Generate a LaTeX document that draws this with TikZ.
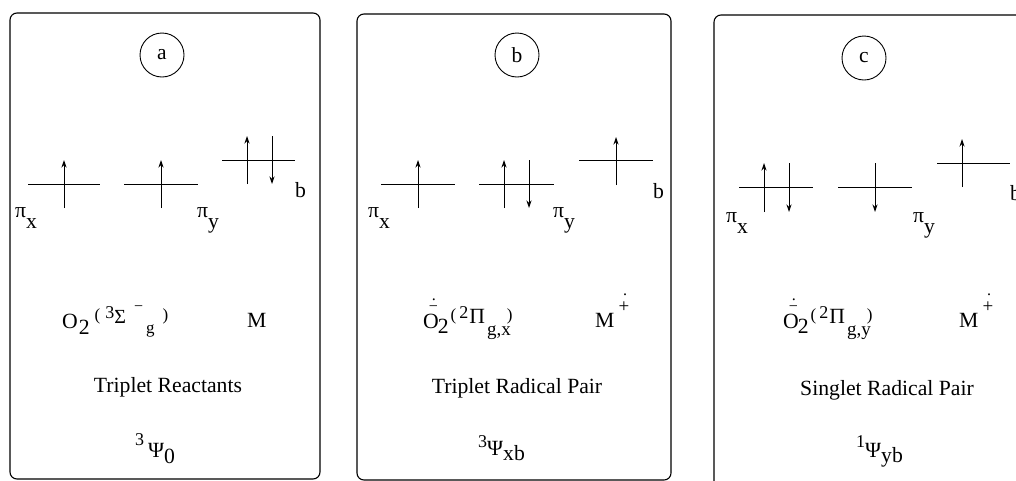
\documentclass[tikz,border=0pt]{standalone}
\usepackage{fontspec}
\setmainfont{Liberation Serif}
\usetikzlibrary{arrows.meta}
\newcommand\rb[3]{\raisebox{#1}{\fontsize{#2}{#2}\selectfont #3}}
\begin{document}
\begin{tikzpicture}[x=1pt,y=-1pt,
  panel/.style={draw,line width=1.1pt,rounded corners=7pt},
  level/.style={line width=0.9pt},
  spin/.style={line width=0.9pt,-{Stealth[length=7.5pt,width=5pt]}},
  tag/.style={draw,circle,line width=0.9pt,minimum size=44pt,inner sep=0pt,font=\fontsize{21.5}{21.5}\selectfont},
  txt/.style={inner sep=0pt,anchor=base west,font=\fontsize{21.7}{25}\selectfont},
  ctxt/.style={inner sep=0pt,anchor=base,font=\fontsize{21.7}{25}\selectfont}]
\useasboundingbox (0,0) rectangle (1016,480);
\clip (0,0) rectangle (1016,480);
% panels
\draw[panel] (10,13) rectangle (320,479);
\draw[panel] (357,14) rectangle (671,480);
\draw[panel] (714,15) rectangle (1040,500);
% tags
\node[tag] (ta) at (162,55) {a};
\node[tag] (tb) at (517,55) {b};
\node[tag] (tc) at (864,58) {c};
% ---- panel a levels
\draw[level] (28,184) -- (100,184);
\draw[spin] (64,208) -- (64,160);
\draw[level] (124,184) -- (198,184);
\draw[spin] (161,208) -- (161,160);
\draw[level] (222,160) -- (295,160);
\draw[spin] (247,184) -- (247,136);
\draw[spin] (272,136) -- (272,184);
\node[txt] (ba) at (295,197) {b};
\node[txt] (pxa) at (15,217) {π\rb{-11pt}{21.7}{x}};
\node[txt] (pya) at (197,217) {π\rb{-11pt}{21.7}{y}};
% ---- panel b levels
\draw[level] (381,184) -- (455,184);
\draw[spin] (418,208) -- (418,160);
\draw[level] (479,184) -- (554,184);
\draw[spin] (504,208) -- (504,160);
\draw[spin] (529,160) -- (529,208);
\draw[level] (579,160) -- (653,160);
\draw[spin] (616,185) -- (616,137);
\node[txt] (bb) at (653,198) {b};
\node[txt] (pxb) at (368,217) {π\rb{-11pt}{21.7}{x}};
\node[txt] (pyb) at (553,217) {π\rb{-11pt}{21.7}{y}};
% ---- panel c levels
\draw[level] (739,187) -- (813,187);
\draw[spin] (764,212) -- (764,163);
\draw[spin] (789,163) -- (789,212);
\draw[level] (838,187) -- (912,187);
\draw[spin] (875,163) -- (875,212);
\draw[level] (937,163) -- (1010,163);
\draw[spin] (962,187) -- (962,139);
\node[txt] (bc) at (1010,200) {b};
\node[txt] (pxc) at (726,222) {π\rb{-11pt}{21.7}{x}};
\node[txt] (pyc) at (913,222) {π\rb{-11pt}{21.7}{y}};
% ---- species
\node[txt] (fa) at (62,328) {O\kern1pt\rb{-6pt}{21.7}{2}\kern5pt\rb{8pt}{17}{(}\kern5pt\rb{10pt}{18}{3}\rb{5pt}{20}{Σ}\kern8pt\rb{17pt}{16}{−}\kern3pt\rb{-5pt}{17}{g}\kern8pt\rb{8pt}{17}{)}};
\node[txt] (ma) at (247,327) {M};
\node[txt] (fb) at (423,328) {O\rlap{\kern-10pt\rb{17pt}{16}{−}}\rlap{\kern-7pt\rb{28pt}{16}{.}}\kern-1pt\rb{-5pt}{21.7}{2}\kern2pt\rb{8pt}{17}{(}\kern3pt\rb{10pt}{18}{2}\kern1pt\rb{5pt}{21.7}{Π}\kern2pt\rb{-7pt}{19}{g,x}\kern-4pt\rb{8pt}{17}{)}};
\node[txt] (mb) at (595,327) {M\kern4pt\rb{15pt}{19}{+}\rlap{\kern-6pt\rb{32pt}{16}{.}}};
\node[txt] (fc) at (783,328) {O\rlap{\kern-10pt\rb{17pt}{16}{−}}\rlap{\kern-7pt\rb{28pt}{16}{.}}\kern-1pt\rb{-5pt}{21.7}{2}\kern2pt\rb{8pt}{17}{(}\kern3pt\rb{10pt}{18}{2}\kern1pt\rb{5pt}{21.7}{Π}\kern2pt\rb{-7pt}{19}{g,y}\kern-4pt\rb{8pt}{17}{)}};
\node[txt] (mc) at (959,327) {M\kern4pt\rb{15pt}{19}{+}\rlap{\kern-6pt\rb{32pt}{16}{.}}};
% ---- names
\node[ctxt] (na) at (168,392) {Triplet Reactants};
\node[ctxt] (nb) at (517,393) {Triplet Radical Pair};
\node[ctxt] (nc) at (887,395) {Singlet Radical Pair};
% ---- wavefunctions
\node[txt] (wa) at (135,457) {\rb{12pt}{18}{3}\kern4pt Ψ\rb{-6pt}{21.7}{0}};
\node[txt] (wb) at (478,455) {\rb{8pt}{18}{3}Ψ\rb{-5pt}{21.7}{xb}};
\node[txt] (wc) at (856,457) {\rb{10pt}{18}{1}Ψ\rb{-5pt}{21.7}{yb}};
\end{tikzpicture}
\end{document}
